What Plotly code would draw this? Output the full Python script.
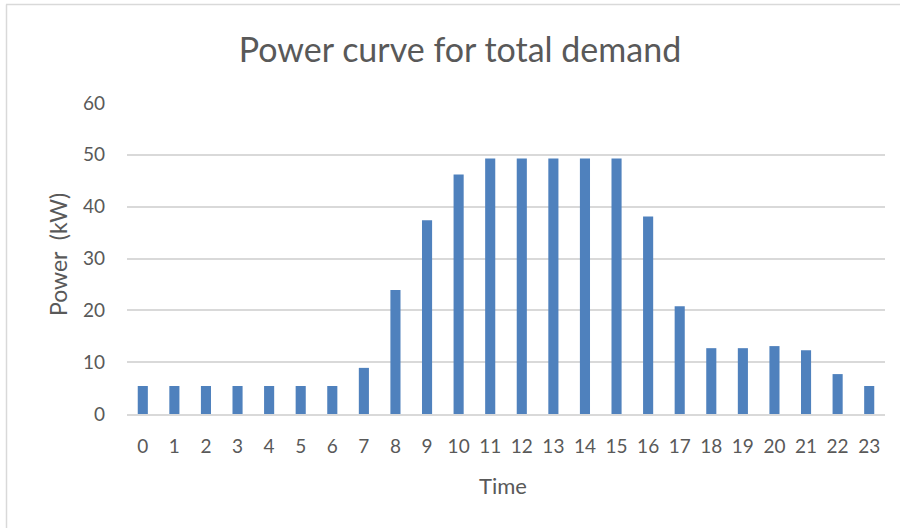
import plotly.graph_objects as go

# Hourly total demand (kW)
hours = [str(h) for h in range(24)]
power_kw = [5.4, 5.4, 5.4, 5.4, 5.4, 5.4, 5.4, 8.9, 23.9, 37.4, 46.2, 49.3,
            49.3, 49.3, 49.3, 49.3, 38.1, 20.8, 12.7, 12.7, 13.1, 12.3, 7.7, 5.4]
y_ticks = [0, 10, 20, 30, 40, 50, 60]

FONT = "Lato"
TEXT = "#595959"
W, H = 900, 528
L, R, T, B = 127, 15, 103, 114

fig = go.Figure(go.Bar(x=hours, y=power_kw, marker_color="#4f81bd",
                       marker_line_width=0))

fig.update_layout(
    width=W, height=H,
    margin=dict(l=L, r=R, t=T, b=B),
    paper_bgcolor="white", plot_bgcolor="white",
    bargap=0.68,
    showlegend=False,
    font=dict(family=FONT, color=TEXT, size=19),
    title=dict(text="Power curve for total demand", x=460 / W, xanchor="center",
               y=1 - 50 / H, yanchor="middle",
               font=dict(family=FONT, size=34, color=TEXT)),
)
fig.update_xaxes(type="category", showgrid=False, ticks="", showline=True,
                 linecolor="#d9d9d9", linewidth=1.5, ticklabelstandoff=14,
                 tickfont=dict(size=19, color=TEXT))
fig.update_yaxes(range=[0, 60], tickvals=y_ticks, showgrid=True,
                 gridcolor="#d9d9d9", gridwidth=1.5, zeroline=False,
                 ticks="", ticklabelstandoff=21,
                 tickfont=dict(size=19, color=TEXT))

# axis titles
pw, ph = W - L - R, H - T - B
fig.add_annotation(text="Power  (kW)", xref="paper", yref="paper",
                   x=-(L - 58) / pw, y=(H - B - 255) / ph, textangle=-90,
                   xanchor="center", yanchor="middle",
                   showarrow=False, font=dict(size=23, color=TEXT))
fig.add_annotation(text="Time", xref="paper", yref="paper",
                   x=(503 - L) / pw, y=-(485 - (H - B)) / ph,
                   xanchor="center", yanchor="middle",
                   showarrow=False, font=dict(size=22, color=TEXT))

# chart border
fig.add_shape(type="line", xref="paper", yref="paper",
              x0=(6 - L) / pw, x1=(W + 5 - L) / pw,
              y0=1 + (T - 4.5) / ph, y1=1 + (T - 4.5) / ph,
              line=dict(color="#d9d9d9", width=1.5))
fig.add_shape(type="line", xref="paper", yref="paper",
              x0=(6.5 - L) / pw, x1=(6.5 - L) / pw,
              y0=-(B + 5) / ph, y1=1 + (T - 4.5) / ph,
              line=dict(color="#d9d9d9", width=1.5))

fig.write_html("out.html")
